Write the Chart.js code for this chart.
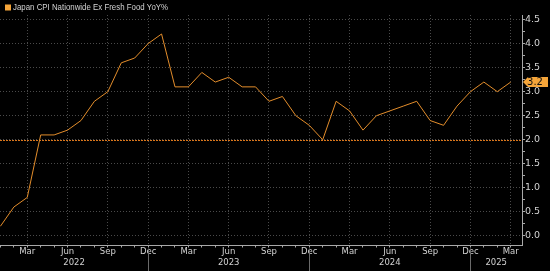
<!DOCTYPE html>
<html lang="en">
<head>
<meta charset="UTF-8">
<title>Japan CPI Nationwide Ex Fresh Food YoY%</title>
<script src="https://cdn.jsdelivr.net/npm/chart.js@4"></script>
<style>
html, body { margin: 0; padding: 0; background: #000; }
#wrap { position: relative; width: 550px; height: 271px; }
</style>
</head>
<body>
<div id="wrap"><canvas id="cpiChart"></canvas></div>
<script>
const seriesName = 'Japan CPI Nationwide Ex Fresh Food YoY%';
const monthNames = ['Jan', 'Feb', 'Mar', 'Apr', 'May', 'Jun', 'Jul', 'Aug', 'Sep', 'Oct', 'Nov', 'Dec'];
const yearLabels = ['2022', '2023', '2024', '2025'];
// monthly values, Jan 2022 .. Mar 2025
const cpiValues = [
    0.2, 0.6, 0.8, 2.1, 2.1, 2.2, 2.4, 2.8, 3.0, 3.6, 3.7, 4.0,
    4.2, 3.1, 3.1, 3.4, 3.2, 3.3, 3.1, 3.1, 2.8, 2.9, 2.5, 2.3,
    2.0, 2.8, 2.6, 2.2, 2.5, 2.6, 2.7, 2.8, 2.4, 2.3, 2.7, 3.0,
    3.2, 3.0, 3.2
];
const yTickValues = [0, 0.25, 0.5, 0.75, 1, 1.25, 1.5, 1.75, 2, 2.25, 2.5, 2.75, 3, 3.25, 3.5, 3.75, 4, 4.25, 4.5];
const refLevel = 2.0;

const xMin = -0.03, xMax = 38.84;
const yMin = -0.2, yMax = 4.595;
const lineColor = '#e38d2b';
const tagColor = '#f5a53a';
const gridColor = '#4a4a4a';
const textColor = '#d2d2d2';
const axisColor = '#a8a8a8';
const fontFamily = '"DejaVu Sans", "Liberation Sans", sans-serif';

// Dec of each year = year separator
const yearEdges = yearLabels.map((_, i) => i * 12 + 11);
const yearCenters = yearLabels.map((_, i) => {
    const lo = i === 0 ? xMin : yearEdges[i - 1];
    const hi = Math.min(yearEdges[i], xMax);
    return (lo + hi) / 2;
});

const extras = {
    id: 'extras',
    beforeDatasetsDraw(chart) {
        const {ctx, chartArea, scales} = chart;
        const y = Math.round(scales.y.getPixelForValue(refLevel)) + 0.5;
        ctx.save();
        ctx.strokeStyle = '#d9761c';
        ctx.lineWidth = 1;
        ctx.setLineDash([2, 1]);
        ctx.beginPath();
        ctx.moveTo(chartArea.left, y);
        ctx.lineTo(chartArea.right, y);
        ctx.stroke();
        ctx.restore();
    },
    afterDraw(chart) {
        const {ctx, chartArea, scales} = chart;
        ctx.save();
        // year separators below the axis
        ctx.strokeStyle = '#6a6a6a';
        ctx.lineWidth = 1;
        yearEdges.forEach(v => {
            if (v >= xMax) return;
            const x = Math.round(scales.x.getPixelForValue(v)) + 0.5;
            ctx.beginPath();
            ctx.moveTo(x, chartArea.bottom + 3);
            ctx.lineTo(x, chart.height);
            ctx.stroke();
        });
        // legend
        ctx.fillStyle = tagColor;
        ctx.fillRect(5, 4.5, 6, 6);
        ctx.fillStyle = textColor;
        ctx.font = '9px "Liberation Sans", sans-serif';
        ctx.textBaseline = 'middle';
        ctx.textAlign = 'left';
        ctx.fillText(seriesName, 13, 8, 155);
        // last value tag
        const last = cpiValues[cpiValues.length - 1];
        const ty = scales.y.getPixelForValue(last);
        const x0 = chartArea.right + 1;
        ctx.fillStyle = tagColor;
        ctx.beginPath();
        ctx.moveTo(x0, ty);
        ctx.lineTo(x0 + 5, ty - 5);
        ctx.lineTo(548, ty - 5);
        ctx.lineTo(548, ty + 5);
        ctx.lineTo(x0 + 5, ty + 5);
        ctx.closePath();
        ctx.fill();
        ctx.fillStyle = '#111';
        ctx.font = '10px ' + fontFamily;
        ctx.textAlign = 'center';
        ctx.fillText(last.toFixed(1), 535, ty + 0.5);
        ctx.restore();
    }
};

new Chart(document.getElementById('cpiChart'), {
    type: 'line',
    data: {
        datasets: [{
            label: seriesName,
            data: cpiValues.map((v, i) => ({x: i, y: v})),
            borderColor: lineColor,
            borderWidth: 1,
            pointRadius: 0,
            tension: 0,
            fill: false
        }]
    },
    options: {
        responsive: true,
        maintainAspectRatio: false,
        animation: false,
        devicePixelRatio: 1,
        layout: { padding: { top: 15, left: 0, right: 0, bottom: 1.5 } },
        plugins: { legend: { display: false }, tooltip: { enabled: false } },
        scales: {
            x: {
                type: 'linear',
                min: xMin,
                max: xMax,
                weight: 0,
                afterBuildTicks: s => { s.ticks = cpiValues.map((_, i) => ({value: i})); },
                ticks: {
                    autoSkip: false,
                    maxRotation: 0,
                    padding: 0,
                    color: textColor,
                    font: { family: fontFamily, size: 8.5, lineHeight: 1 },
                    callback: v => (v % 3 === 2 ? monthNames[v % 12] : '')
                },
                grid: {
                    color: c => (c.tick && c.tick.value % 3 === 2 ? gridColor : 'transparent'),
                    tickColor: axisColor,
                    tickLength: 2
                },
                border: { color: axisColor, dash: [1, 2] }
            },
            xYear: {
                type: 'linear',
                position: 'bottom',
                min: xMin,
                max: xMax,
                weight: 1,
                afterBuildTicks: s => { s.ticks = yearCenters.map(v => ({value: v})); },
                ticks: {
                    autoSkip: false,
                    maxRotation: 0,
                    padding: 2.5,
                    color: textColor,
                    font: { family: fontFamily, size: 8.5, lineHeight: 1 },
                    callback: (v, i) => yearLabels[i]
                },
                grid: { display: false, drawTicks: false },
                border: { display: false }
            },
            y: {
                position: 'right',
                min: yMin,
                max: yMax,
                afterBuildTicks: s => { s.ticks = yTickValues.map(v => ({value: v})); },
                afterFit: s => { s.width = 28; },
                ticks: {
                    autoSkip: false,
                    padding: 0,
                    color: textColor,
                    font: { family: fontFamily, size: 9.5 },
                    callback: v => (v % 0.5 === 0 ? v.toFixed(1) : '')
                },
                grid: {
                    color: c => (c.tick && c.tick.value % 0.5 === 0 ? gridColor : 'transparent'),
                    tickColor: axisColor,
                    tickLength: 3
                },
                border: { color: axisColor, dash: [1, 2] }
            }
        }
    },
    plugins: [extras]
});
</script>
</body>
</html>
